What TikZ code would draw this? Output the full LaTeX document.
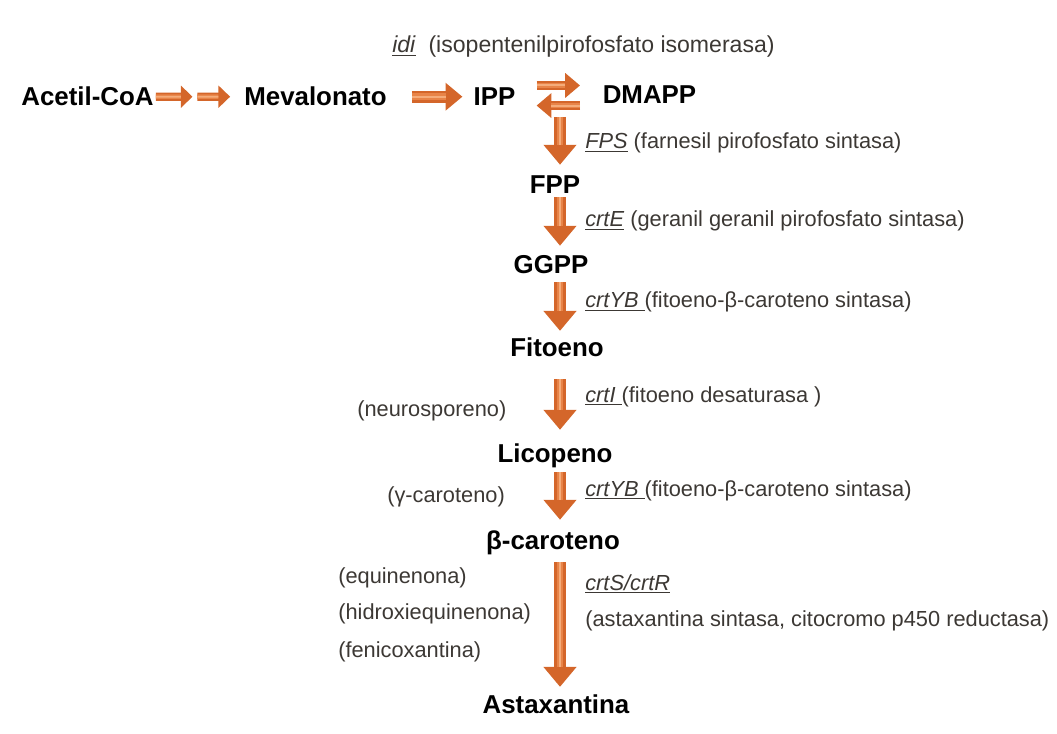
\documentclass[tikz,border=0pt]{standalone}
\usepackage{fontspec}
\setmainfont{Liberation Sans}
\usetikzlibrary{arrows.meta,calc}
\definecolor{fluxedge}{RGB}{212,102,42}
\definecolor{fluxmid}{RGB}{232,132,72}
\definecolor{fluxlight}{RGB}{245,172,122}
\definecolor{enzgray}{RGB}{60,56,52}
\newcommand{\gen}[1]{\underline{\textit{#1}}}

\begin{document}
\begin{tikzpicture}[x=0.025cm,y=-0.025cm,
  comp/.style={font=\fontsize{18.4}{22}\selectfont\bfseries,inner sep=0pt,text height=13.2pt,text depth=0pt,anchor=base},
  enz/.style={font=\fontsize{15.5}{18}\selectfont,text=enzgray,inner sep=0pt,anchor=base west},
  flux/.style n args={3}{draw=fluxedge,line width=#1,-{Triangle[width=#2,length=#3]},
    postaction={draw=fluxmid,line width=0.55*#1,shorten >=#3,-},
    postaction={draw=fluxlight,line width=0.2*#1,shorten >=#3,-}},
  vflux/.style={flux={8.5pt}{22.7pt}{14.2pt}},
  hflux/.style={flux={8.5pt}{19.1pt}{12pt}},
  sflux/.style={flux={5.9pt}{15.4pt}{8.3pt}},
  eflux/.style={flux={7pt}{17pt}{10.5pt}}]
\useasboundingbox (0,0) rectangle (1057,734);

\node[comp] (acetil) at (87.5,106) {Acetil-CoA};
\node[comp] (mevalonato) at (315.5,106) {Mevalonato};
\node[comp] (ipp) at (494.5,106) {IPP};
\node[comp] (dmapp) at (649.5,104) {DMAPP};
\node[enz,font=\fontsize{16.4}{18}\selectfont] (idi) at (392,53) {\gen{idi}\hspace{9pt}(isopentenilpirofosfato isomerasa)};
\node[enz] (fps) at (585,149) {\gen{FPS} (farnesil pirofosfato sintasa)};
\node[comp] (fpp) at (555,194) {FPP};
\node[enz] (crte) at (585,227) {\gen{crtE} (geranil geranil pirofosfato sintasa)};
\node[comp] (ggpp) at (551,274) {GGPP};
\node[enz] (crtyba) at (585,308) {\gen{crtYB\ }(fitoeno-β-caroteno sintasa)};
\node[comp] (fitoeno) at (557,357) {Fitoeno};
\node[enz] (crti) at (585,402) {\gen{crtI\ }(fitoeno desaturasa )};
\node[enz] (neuro) at (357,416) {(neurosporeno)};
\node[comp] (licopeno) at (555,462) {Licopeno};
\node[enz] (crtybb) at (585,496) {\gen{crtYB\ }(fitoeno-β-caroteno sintasa)};
\node[enz] (gama) at (387,502) {(γ-caroteno)};
\node[comp] (bcaroteno) at (553,549) {β-caroteno};
\node[enz] (crts) at (585,590) {\gen{crtS/crtR}};
\node[enz] (crtsname) at (585,626) {(astaxantina sintasa, citocromo p450 reductasa)};
\node[enz] (equi) at (338,583) {(equinenona)};
\node[enz] (hidroxi) at (338,619) {(hidroxiequinenona)};
\node[enz] (fenico) at (338,657) {(fenicoxantina)};
\node[comp] (asta) at (556,713) {Astaxantina};

\coordinate (axis) at (560,0);
\coordinate (acmv) at ($(acetil.east)!.5!(mevalonato.west)$);
\coordinate (ipdm) at (ipp.east -| dmapp.west);
\draw[sflux] ([xshift=1.4pt]acetil.east) -- ([xshift=-4.6pt]acmv);
\draw[sflux] ([xshift=-1.1pt]acmv) -- ([xshift=-9.9pt]mevalonato.west);
\draw[hflux] ([xshift=17.7pt]mevalonato.east) -- ([xshift=-7.8pt]ipp.west);
\draw[eflux] ([xshift=14.9pt,yshift=8pt]ipp.east) -- ([xshift=-16pt,yshift=8pt]ipdm);
\draw[eflux] ([xshift=-16pt,yshift=-6.3pt]ipdm) -- ([xshift=14.9pt,yshift=-6.3pt]ipp.east);
\draw[vflux] ([yshift=-14.4pt]axis |- ipp.east) -- ([yshift=7.4pt]axis |- fpp.north);
\draw[vflux] ([yshift=-2.1pt]axis |- fpp.south) -- ([yshift=6.7pt]axis |- ggpp.north);
\draw[vflux] ([yshift=-5.7pt]axis |- ggpp.south) -- ([yshift=5.2pt]axis |- fitoeno.north);
\draw[vflux] ([yshift=-15.6pt]axis |- fitoeno.south) -- ([yshift=9.5pt]axis |- licopeno.north);
\draw[vflux] ([yshift=-7.1pt]axis |- licopeno.south) -- ([yshift=7.4pt]axis |- bcaroteno.north);
\draw[vflux] ([yshift=-9.2pt]axis |- bcaroteno.south) -- ([yshift=5.2pt]axis |- asta.north);
\end{tikzpicture}
\end{document}
